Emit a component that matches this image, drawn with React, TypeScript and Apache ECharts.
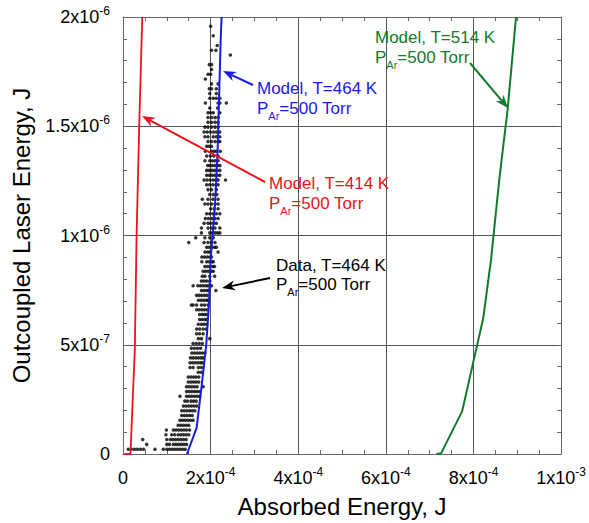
import React, { useEffect, useRef } from 'react';
import * as echarts from 'echarts';

// Units used in the arrays below
const X_UNIT = 1e-4; // J (absorbed energy)
const Y_UNIT = 1e-7; // J (outcoupled laser energy)

// Tick labels (mantissa + exponent)
const xTickMantissa = ['0', '2', '4', '6', '8', '1'];
const xTickExponent = ['', '-4', '-4', '-4', '-4', '-3'];
const yTickMantissa = ['0', '5', '1', '1.5', '2'];
const yTickExponent = ['', '-7', '-6', '-6', '-6'];

// Model curves (x in 1e-4 J, y in 1e-7 J)
const model414X = [0.03, 0.17, 0.27, 0.31, 0.37, 0.44];
const model414Y = [0, 0, 4.8, 10, 15, 20];
const model464X = [1.46, 1.68, 1.8, 1.9, 1.96, 2.0, 2.1, 2.16, 2.23, 2.25];
const model464Y = [0, 1.2, 3.2, 5.0, 6.8, 8.9, 11.4, 13.9, 19, 20];
const model514X = [7.15, 7.26, 7.74, 8.22, 8.4, 8.59, 8.78, 8.97];
const model514Y = [0, 0.03, 1.95, 6.2, 8.9, 12.6, 15.8, 20];

// Measured data, T=464 K: rows of [y, x values]
const dataRows: [number, number[]][] = [
  [0.22, [0.12, 0.19, 0.26, 0.33, 0.4, 0.47, 0.73, 0.92, 1.0, 1.06, 1.12, 1.18, 1.24, 1.3, 1.36, 1.42]],
  [0.44, [0.54, 1.0, 1.06, 1.15, 1.21, 1.27, 1.33, 1.39, 1.45]],
  [0.66, [0.45, 1.0, 1.08, 1.14, 1.2, 1.26, 1.32, 1.38, 1.44]],
  [0.88, [0.98, 1.11, 1.18, 1.26, 1.32, 1.38, 1.44, 1.5]],
  [1.1, [0.99, 1.15, 1.21, 1.27, 1.33, 1.39, 1.45, 1.52]],
  [1.32, [1.26, 1.32, 1.38, 1.44, 1.5]],
  [1.54, [1.3, 1.36, 1.42, 1.48, 1.54, 1.6]],
  [1.76, [1.34, 1.4, 1.46, 1.52, 1.58]],
  [1.98, [1.34, 1.4, 1.46, 1.52, 1.58, 1.64]],
  [2.2, [1.38, 1.44, 1.5, 1.56, 1.62, 1.68]],
  [2.42, [1.41, 1.47, 1.55, 1.61, 1.67]],
  [2.64, [1.3, 1.45, 1.51, 1.57, 1.63, 1.69, 1.75]],
  [2.86, [1.45, 1.51, 1.57, 1.63, 1.69, 1.75]],
  [3.08, [1.45, 1.51, 1.57, 1.63, 1.69, 1.83]],
  [3.3, [1.49, 1.55, 1.61, 1.67, 1.73]],
  [3.52, [1.49, 1.55, 1.61, 1.67, 1.73]],
  [3.74, [1.72, 1.79]],
  [3.96, [1.53, 1.6, 1.72, 1.79]],
  [4.18, [1.53, 1.59, 1.65, 1.71, 1.77, 1.81]],
  [4.4, [1.54, 1.6, 1.66, 1.72, 1.78, 1.83]],
  [4.62, [1.57, 1.63, 1.69, 1.75, 1.81, 1.87]],
  [4.84, [1.56, 1.63, 1.7, 1.77]],
  [5.06, [1.6, 1.67, 1.74, 1.81]],
  [5.28, [1.72, 1.79, 1.98]],
  [5.5, [1.68, 1.75, 1.83]],
  [5.72, [1.68, 1.75, 1.83, 1.9]],
  [5.94, [1.72, 1.79, 1.85, 1.91]],
  [6.16, [1.75, 1.81, 1.87, 1.91]],
  [6.38, [1.75, 1.81, 1.86, 1.91]],
  [6.6, [1.68, 1.74, 1.8, 1.86, 1.92]],
  [6.82, [1.56, 1.6, 1.68, 1.79, 1.86, 1.94]],
  [7.04, [1.72, 1.78, 1.84, 1.9, 1.94]],
  [7.26, [1.68, 1.74, 1.8, 1.86, 1.92]],
  [7.48, [1.79, 1.85, 1.91, 1.96, 2.12]],
  [7.7, [1.6, 1.71, 1.77, 1.83, 1.89, 1.94, 2.02]],
  [7.92, [1.79, 1.85, 1.91, 1.98]],
  [8.14, [1.81, 1.87, 1.98, 2.09]],
  [8.36, [1.83, 1.89, 1.95, 2.01, 2.06]],
  [8.58, [1.87, 1.93, 1.99, 2.05, 2.09]],
  [8.8, [1.8, 1.91, 1.97, 2.03, 2.06]],
  [9.02, [1.8, 1.86, 1.92, 1.98, 2.02]],
  [9.24, [1.87, 1.93, 1.98, 2.17]],
  [9.46, [1.91, 1.97, 2.03, 2.09, 2.13]],
  [9.68, [1.5, 1.85, 1.94, 2.02, 2.1]],
  [9.9, [1.66, 1.87, 1.98, 2.06]],
  [10.12, [1.79, 1.98, 2.04, 2.1, 2.16, 2.21]],
  [10.34, [1.79, 1.94, 2.02, 2.1, 2.21]],
  [10.56, [1.85, 1.94, 2.0, 2.07, 2.13]],
  [10.78, [1.88, 1.95, 2.03, 2.1, 2.17]],
  [11.0, [1.91, 1.98, 2.05, 2.13, 2.21]],
  [11.22, [2.0, 2.08, 2.17]],
  [11.44, [1.87, 1.94, 2.02, 2.1, 2.17]],
  [11.66, [1.81, 1.94, 2.05, 2.17]],
  [11.88, [1.98, 2.06, 2.14]],
  [12.1, [1.94, 2.02, 2.13]],
  [12.32, [1.91, 1.98, 2.05, 2.12, 2.17]],
  [12.54, [1.85, 1.92, 1.99, 2.06, 2.12, 2.17, 2.34]],
  [12.76, [1.91, 1.97, 2.03, 2.09, 2.15, 2.21]],
  [12.98, [1.91, 1.97, 2.03, 2.09, 2.15, 2.21]],
  [13.2, [1.93, 1.98, 2.04, 2.1, 2.16, 2.21]],
  [13.42, [1.87, 1.98, 2.04, 2.1, 2.17]],
  [13.64, [1.91, 1.99, 2.07, 2.17]],
  [13.86, [1.88, 2.02, 2.08, 2.13, 2.22]],
  [14.08, [1.91, 1.97, 2.02]],
  [14.3, [1.94, 2.02, 2.1, 2.17, 2.21]],
  [14.52, [1.87, 1.94, 2.06, 2.13, 2.21]],
  [14.74, [1.85, 1.92, 1.99, 2.06, 2.13, 2.21]],
  [14.96, [1.87, 1.94, 2.02, 2.1, 2.17]],
  [15.18, [1.94, 2.02, 2.1, 2.17]],
  [15.4, [1.94, 2.02, 2.1, 2.17]],
  [15.62, [1.94, 2.0, 2.06, 2.21]],
  [15.84, [1.98, 2.16]],
  [16.06, [1.88, 2.17, 2.21, 2.36]],
  [16.28, [1.98, 2.06, 2.13, 2.21]],
  [16.5, [1.98, 2.13]],
  [16.72, [1.97, 2.02, 2.13]],
  [16.94, [2.02, 2.17]],
  [17.16, [1.88]],
  [17.38, [1.94, 2.0]],
  [17.6, [2.02]],
  [17.82, [1.97, 2.02]],
  [18.26, [2.45]],
  [18.48, [2.02, 2.12]],
  [18.7, [2.15]],
  [19.14, [2.06]],
  [19.58, [2.0]],
];

const FONT = '"Liberation Sans", Arial, Helvetica, sans-serif';
const RED = '#e8141c';
const BLUE = '#1a1ae6';
const GREEN = '#137a2c';
const GRID_COLOR = '#555';
const FRAME_COLOR = '#666';

const toPairs = (xs: number[], ys: number[]) => xs.map((x, i) => [x * X_UNIT, ys[i] * Y_UNIT]);

const scatterData: number[][] = [];
dataRows.forEach(([y, xs]) => xs.forEach((x) => scatterData.push([x * X_UNIT, y * Y_UNIT])));

const labelRich = {
  n: { fontSize: 18, lineHeight: 24, fontFamily: FONT, color: '#000' },
  sup: { fontSize: 12, lineHeight: 12, verticalAlign: 'top', fontFamily: FONT, color: '#000' },
};

const fmt = (m: string, e: string) => (e ? `{n|${m}x10}{sup|${e}}` : `{n|${m}}`);

function arrow(x1: number, y1: number, x2: number, y2: number, color: string) {
  const dx = x2 - x1;
  const dy = y2 - y1;
  const len = Math.hypot(dx, dy);
  const ux = dx / len;
  const uy = dy / len;
  const hl = 13;
  const hw = 5;
  const bx = x2 - ux * hl;
  const by = y2 - uy * hl;
  const nx = x2 - ux * hl * 0.7;
  const ny = y2 - uy * hl * 0.7;
  const px = -uy;
  const py = ux;
  return [
    {
      type: 'line',
      shape: { x1, y1, x2: nx, y2: ny },
      style: { stroke: color, lineWidth: 2 },
      z: 100,
    },
    {
      type: 'polygon',
      shape: {
        points: [
          [x2, y2],
          [bx + px * hw, by + py * hw],
          [nx, ny],
          [bx - px * hw, by - py * hw],
        ],
      },
      style: { fill: color },
      z: 100,
    },
  ];
}

function label(x: number, y1: number, y2: number, color: string, line1: string) {
  return [
    {
      type: 'text',
      x,
      y: y1,
      z: 100,
      style: { text: line1, fill: color, fontSize: 17, fontFamily: FONT, verticalAlign: 'middle', align: 'left' },
    },
    {
      type: 'text',
      x,
      y: y2,
      z: 100,
      style: {
        text: 'P{s|Ar}=500 Torr',
        fill: color,
        fontSize: 17,
        fontFamily: FONT,
        lineHeight: 26,
        verticalAlign: 'middle',
        align: 'left',
        rich: {
          s: { fontSize: 11, lineHeight: 11, verticalAlign: 'bottom', fill: color, fontFamily: FONT },
        },
      },
    },
  ];
}

const axisCommon = {
  type: 'value',
  axisLine: { show: true, onZero: false, lineStyle: { color: FRAME_COLOR, width: 1 } },
  axisTick: { show: true, inside: true, length: 4, lineStyle: { color: FRAME_COLOR } },
};

const option = {
  animation: false,
  backgroundColor: '#fff',
  grid: { left: 123, right: 27, top: 17, bottom: 67, containLabel: false },
  xAxis: [
    {
      ...axisCommon,
      position: 'bottom',
      min: 0,
      max: 10 * X_UNIT,
      interval: 2 * X_UNIT,
      minorTick: { show: true, splitNumber: 4, length: 4, lineStyle: { color: FRAME_COLOR } },
      splitLine: { show: true, lineStyle: { color: GRID_COLOR, width: 1 } },
      axisLabel: {
        margin: 12,
        formatter: (v: number) => {
          const i = Math.round(v / (2 * X_UNIT));
          return fmt(xTickMantissa[i], xTickExponent[i]);
        },
        rich: labelRich,
      },
      name: 'Absorbed Energy, J',
      nameLocation: 'middle',
      nameGap: 40,
      nameTextStyle: { fontSize: 24, color: '#000', fontFamily: FONT },
    },
    {
      ...axisCommon,
      position: 'top',
      min: 0,
      max: 10 * X_UNIT,
      interval: 2 * X_UNIT,
      minorTick: { show: true, splitNumber: 4, length: 4, lineStyle: { color: FRAME_COLOR } },
      splitLine: { show: false },
      axisLabel: { show: false },
    },
  ],
  yAxis: [
    {
      ...axisCommon,
      position: 'left',
      min: 0,
      max: 20 * Y_UNIT,
      interval: 5 * Y_UNIT,
      minorTick: { show: true, splitNumber: 5, length: 4, lineStyle: { color: FRAME_COLOR } },
      splitLine: { show: true, lineStyle: { color: GRID_COLOR, width: 1 } },
      axisLabel: {
        margin: 13,
        formatter: (v: number) => {
          const i = Math.round(v / (5 * Y_UNIT));
          return fmt(yTickMantissa[i], yTickExponent[i]);
        },
        rich: labelRich,
      },
      name: 'Outcoupled Laser Energy, J',
      nameLocation: 'middle',
      nameRotate: 90,
      nameGap: 90,
      nameTextStyle: { fontSize: 24, color: '#000', fontFamily: FONT },
    },
    {
      ...axisCommon,
      position: 'right',
      min: 0,
      max: 20 * Y_UNIT,
      interval: 5 * Y_UNIT,
      minorTick: { show: true, splitNumber: 5, length: 4, lineStyle: { color: FRAME_COLOR } },
      splitLine: { show: false },
      axisLabel: { show: false },
    },
  ],
  series: [
    {
      type: 'scatter',
      name: 'Data, T=464 K',
      data: scatterData,
      symbol: 'circle',
      symbolSize: 3.5,
      itemStyle: { color: '#000' },
      silent: true,
      z: 2,
    },
    {
      type: 'line',
      name: 'Model, T=414 K',
      data: toPairs(model414X, model414Y),
      showSymbol: false,
      lineStyle: { color: RED, width: 1.8 },
      itemStyle: { color: RED },
      silent: true,
      z: 3,
    },
    {
      type: 'line',
      name: 'Model, T=464 K',
      data: toPairs(model464X, model464Y),
      showSymbol: false,
      lineStyle: { color: BLUE, width: 2 },
      itemStyle: { color: BLUE },
      silent: true,
      z: 3,
    },
    {
      type: 'line',
      name: 'Model, T=514 K',
      data: toPairs(model514X, model514Y),
      showSymbol: false,
      lineStyle: { color: GREEN, width: 2 },
      itemStyle: { color: GREEN },
      silent: true,
      z: 3,
    },
  ],
  graphic: [
    ...arrow(253, 85, 223, 71, BLUE),
    ...label(257, 88, 108, BLUE, 'Model, T=464 K'),
    ...arrow(265, 182, 142, 116, RED),
    ...label(269, 183, 203, RED, 'Model, T=414 K'),
    ...arrow(270, 278, 222, 288, '#000'),
    ...label(276, 265, 284, '#000', 'Data, T=464 K'),
    ...arrow(470, 63, 508, 108, GREEN),
    ...label(375, 37, 57, GREEN, 'Model, T=514 K'),
  ],
};

export default function App() {
  const ref = useRef<HTMLDivElement>(null);
  useEffect(() => {
    const chart = echarts.init(ref.current as HTMLDivElement, null, { renderer: 'svg' });
    chart.setOption(option as any);
    return () => chart.dispose();
  }, []);
  return (
    <div
      ref={ref}
      style={{ position: 'absolute', left: 0, top: 0, width: 589, height: 523, background: '#fff' }}
    />
  );
}
